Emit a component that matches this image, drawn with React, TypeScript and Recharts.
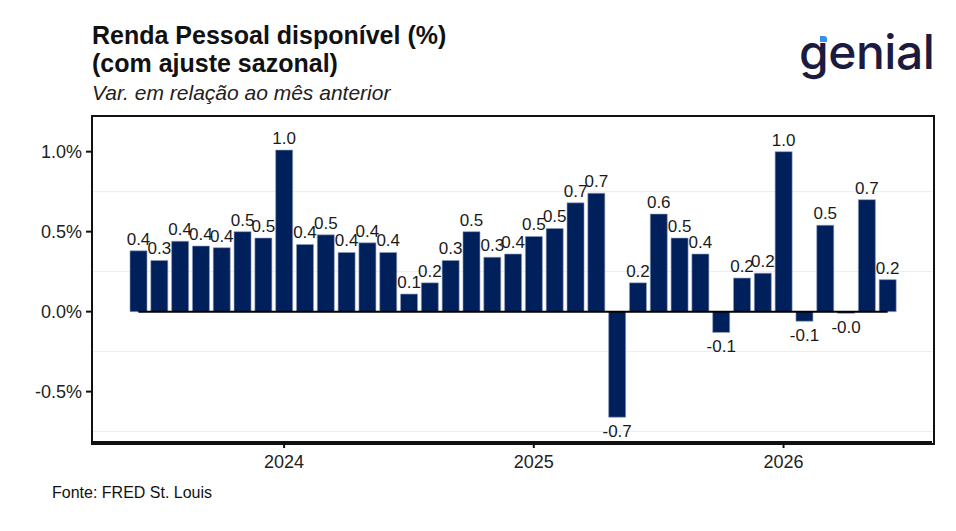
import { Bar, CartesianGrid, ComposedChart, LabelList, Line, XAxis, YAxis } from "recharts";

const months = [
  "2023-06", "2023-07", "2023-08", "2023-09", "2023-10", "2023-11", "2023-12",
  "2024-01", "2024-02", "2024-03", "2024-04", "2024-05", "2024-06", "2024-07",
  "2024-08", "2024-09", "2024-10", "2024-11", "2024-12",
  "2025-01", "2025-02", "2025-03", "2025-04", "2025-05", "2025-06", "2025-07",
  "2025-08", "2025-09", "2025-10", "2025-11", "2025-12",
  "2026-01", "2026-02", "2026-03", "2026-04", "2026-05", "2026-06",
];

const renda = [
  0.38, 0.32, 0.44, 0.41, 0.40, 0.50, 0.46,
  1.01, 0.42, 0.48, 0.37, 0.43, 0.37, 0.11,
  0.18, 0.32, 0.50, 0.34, 0.36,
  0.47, 0.52, 0.68, 0.74, -0.66, 0.18, 0.61,
  0.46, 0.36, -0.13, 0.21, 0.24,
  1.00, -0.06, 0.54, -0.01, 0.70, 0.20,
];

const yearTicks = ["2024-01", "2025-01", "2026-01"];
const yTicks = [-0.5, 0, 0.5, 1.0];
const minorGrid = [-0.75, -0.25, 0.25, 0.75];

const data = months.map((m, i) => ({ mes: m, valor: renda[i], zero: 0 }));

const font = "'Liberation Sans', Arial, sans-serif";

function BarLabel(props: any) {
  const { x, y, width, height, value } = props;
  const top = Math.min(y, y + height);
  const bottom = Math.max(y, y + height);
  const cx = x + width / 2;
  const ty = value >= 0 ? top - 6 : bottom + 20;
  return (
    <text x={cx} y={ty} textAnchor="middle" fontSize={17} fontFamily={font} fill="#1a1a1a">
      {Number(value).toFixed(1)}
    </text>
  );
}

export default function App() {
  return (
    <div style={{ position: "absolute", left: 0, top: 0, width: 956, height: 531, background: "#fff", fontFamily: font }}>
      <div style={{ position: "absolute", left: 92, top: 21, fontSize: 25, fontWeight: 700, lineHeight: "28px", color: "#111", whiteSpace: "nowrap" }}>
        Renda Pessoal disponível (%)
        <br />
        (com ajuste sazonal)
      </div>
      <div style={{ position: "absolute", left: 92, top: 82, fontSize: 21, lineHeight: "21px", fontStyle: "italic", color: "#222", whiteSpace: "nowrap" }}>
        Var. em relação ao mês anterior
      </div>
      <div style={{ position: "absolute", left: 799, top: 28, fontSize: 48, lineHeight: "48px", fontFamily: "Inter, sans-serif", fontWeight: 500, color: "#1b1a40", letterSpacing: -0.5 }}>
        genial
      </div>
      <div style={{ position: "absolute", left: 820, top: 36, width: 7, height: 6, background: "#3b8fe8", borderTopRightRadius: 3 }} />

      <ComposedChart
        width={956}
        height={531}
        data={data}
        margin={{ top: 116, right: 24, bottom: 59, left: 32 }}
        style={{ position: "absolute", left: 0, top: 0 }}
      >
        <CartesianGrid vertical={false} horizontalValues={minorGrid} stroke="#ececec" strokeWidth={1} />
        <XAxis
          dataKey="mes"
          ticks={yearTicks}
          interval={0}
          tickFormatter={(m: string) => m.slice(0, 4)}
          padding={{ left: 36, right: 34 }}
          axisLine={{ stroke: "#111", strokeWidth: 2 }}
          tickLine={{ stroke: "#111", strokeWidth: 2 }}
          tickSize={6}
          tickMargin={7}
          tick={{ fontSize: 18, fill: "#222", fontFamily: font }}
          height={30}
        />
        <YAxis
          domain={[-0.815, 1.223]}
          ticks={yTicks}
          allowDataOverflow
          tickFormatter={(v: number) => v.toFixed(1) + "%"}
          axisLine={{ stroke: "#111", strokeWidth: 2 }}
          tickLine={{ stroke: "#111", strokeWidth: 2 }}
          tickSize={6}
          tickMargin={4}
          tick={{ fontSize: 18, fill: "#222", fontFamily: font }}
          width={60}
        />
        <Bar dataKey="valor" fill="#00205c" stroke="#8e9cbc" strokeWidth={0.6} barSize={17} isAnimationActive={false}>
          <LabelList dataKey="valor" content={BarLabel} />
        </Bar>
        <Line dataKey="zero" stroke="#000" strokeWidth={2} dot={false} activeDot={false} isAnimationActive={false} />
      </ComposedChart>

      <div style={{ position: "absolute", left: 91, top: 115, width: 840, height: 326, border: "2px solid #111", pointerEvents: "none" }} />

      <div style={{ position: "absolute", left: 52, top: 485, fontSize: 16, lineHeight: "16px", color: "#111", whiteSpace: "nowrap" }}>
        Fonte: FRED St. Louis
      </div>
    </div>
  );
}
